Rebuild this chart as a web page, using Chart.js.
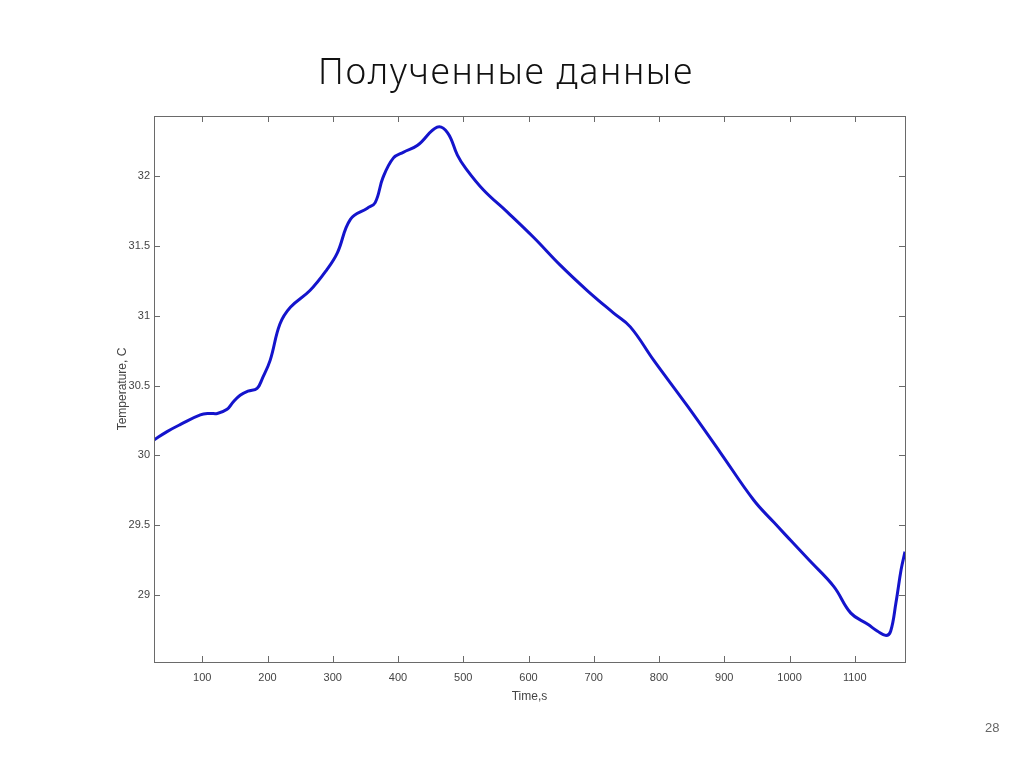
<!DOCTYPE html>
<html lang="ru">
<head>
<meta charset="UTF-8">
<title>Полученные данные</title>
<script src="https://cdn.jsdelivr.net/npm/chart.js"></script>
<style>
  body { margin: 0; background: #fff; }
  #wrap { position: relative; width: 1024px; height: 767px; }
  h1 {
    position: absolute; left: -6px; width: 1024px; top: 46px; margin: 0;
    text-align: center; font-family: "Noto Sans", sans-serif; font-weight: 300;
    font-size: 36px; color: #111; letter-spacing: 1.6px;
  }
  #page { position: absolute; left: 985px; top: 720px; font-family: "Liberation Sans", Arial, sans-serif; font-size: 13px; color: #666; }
  canvas { position: absolute; left: 0; top: 0; }
</style>
</head>
<body>
<div id="wrap">
  <canvas id="tempChart" width="1024" height="767"></canvas>
  <h1>Полученные данные</h1>
  <div id="page">28</div>
</div>
<script>
// время, с
const timeValues = [26, 46, 66, 97, 112, 123, 138, 147, 158, 170, 184, 192, 204, 219, 235, 265, 291, 307, 327, 353,
  365, 377, 393, 408, 430, 460, 476, 491, 503, 531, 568, 608, 649, 690, 730, 756, 792, 844, 894, 945,
  976, 1002, 1030, 1068, 1094, 1120, 1135, 1148, 1155, 1163, 1171, 1177];
// температура, C
const tempValues = [30.11, 30.17, 30.22, 30.29, 30.30, 30.30, 30.33, 30.38, 30.43, 30.46, 30.48, 30.55, 30.68, 30.94, 31.06, 31.18, 31.33, 31.45, 31.69, 31.77,
  31.81, 31.99, 32.13, 32.17, 32.22, 32.35, 32.31, 32.15, 32.06, 31.90, 31.74, 31.56, 31.36, 31.18, 31.02, 30.92, 30.68, 30.35, 30.02, 29.68,
  29.52, 29.39, 29.25, 29.06, 28.87, 28.79, 28.74, 28.71, 28.74, 28.94, 29.18, 29.31];

const xTicks = [100, 200, 300, 400, 500, 600, 700, 800, 900, 1000, 1100];
const yTicks = [29, 29.5, 30, 30.5, 31, 31.5, 32];

const points = timeValues.map((t, i) => ({ x: t, y: tempValues[i] }));

const tickFont = { family: 'Liberation Sans', size: 11 };

// рамка и внутренние засечки как в MATLAB
const framePlugin = {
  id: 'frame',
  afterDatasetsDraw(chart) {
    const { ctx, chartArea: a, scales } = chart;
    ctx.save();
    ctx.strokeStyle = '#6a6a6a';
    ctx.lineWidth = 1;
    ctx.strokeRect(a.left + 0.5, a.top + 0.5, a.right - a.left, a.bottom - a.top);
    ctx.beginPath();
    xTicks.forEach(v => {
      const px = Math.round(scales.x.getPixelForValue(v)) + 0.5;
      ctx.moveTo(px, a.bottom); ctx.lineTo(px, a.bottom - 6);
      ctx.moveTo(px, a.top); ctx.lineTo(px, a.top + 6);
    });
    yTicks.forEach(v => {
      const py = Math.round(scales.y.getPixelForValue(v)) + 0.5;
      ctx.moveTo(a.left, py); ctx.lineTo(a.left + 6, py);
      ctx.moveTo(a.right, py); ctx.lineTo(a.right - 6, py);
    });
    ctx.stroke();
    ctx.restore();
  }
};

new Chart(document.getElementById('tempChart'), {
  type: 'line',
  data: {
    datasets: [{
      data: points,
      borderColor: '#1414cc',
      borderWidth: 3,
      pointRadius: 0,
      fill: false,
      tension: 0.4
    }]
  },
  options: {
    responsive: false,
    animation: false,
    layout: { padding: { left: 111, top: 116, right: 119, bottom: 59 } },
    plugins: { legend: { display: false }, tooltip: { enabled: false } },
    scales: {
      x: {
        type: 'linear',
        min: 26, max: 1177,
        afterBuildTicks: s => { s.ticks = xTicks.map(v => ({ value: v })); },
        afterFit: s => { s.height = 46; },
        grid: { display: false, drawTicks: false },
        border: { display: false },
        ticks: { padding: 9, color: '#444', font: tickFont, maxRotation: 0, callback: v => String(v) },
        title: { display: true, text: 'Time,s', color: '#444', font: { family: 'Liberation Sans', size: 12 }, padding: { top: 4, bottom: 4 } }
      },
      y: {
        type: 'linear',
        min: 28.52, max: 32.43,
        afterBuildTicks: s => { s.ticks = yTicks.map(v => ({ value: v })); },
        afterFit: s => { s.width = 43; },
        grid: { display: false, drawTicks: false },
        border: { display: false },
        ticks: { padding: 4, color: '#444', font: tickFont, callback: v => String(v) },
        title: { display: true, text: 'Temperature, C', color: '#444', font: { family: 'Liberation Sans', size: 12 }, padding: { top: 4, bottom: 4 } }
      }
    }
  },
  plugins: [framePlugin]
});
</script>
</body>
</html>
